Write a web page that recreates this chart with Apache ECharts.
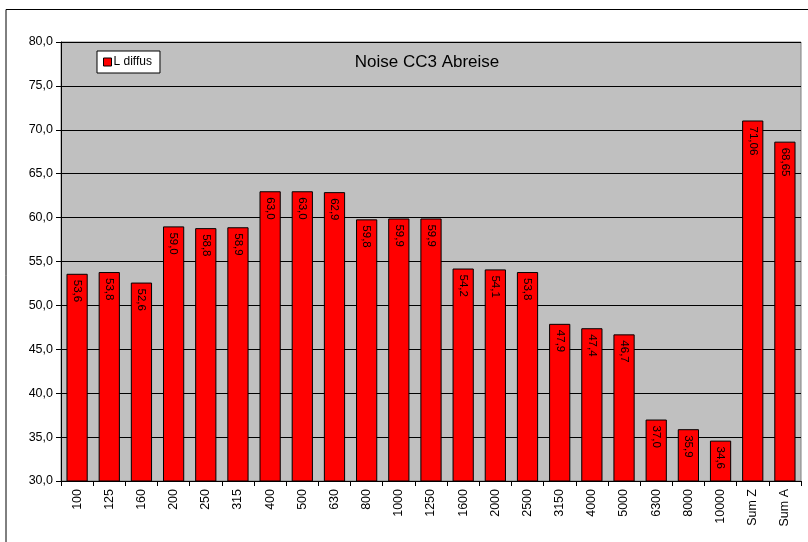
<!DOCTYPE html>
<html>
<head>
<meta charset="utf-8">
<script src="https://cdn.jsdelivr.net/npm/echarts@6/dist/echarts.min.js"></script>
<style>
  html, body { margin: 0; padding: 0; background: #fff; }
  #chart { width: 808px; height: 542px; }
</style>
</head>
<body>
<div id="chart"></div>
<script>
const categories = ['100', '125', '160', '200', '250', '315', '400', '500', '630', '800', '1000', '1250',
  '1600', '2000', '2500', '3150', '4000', '5000', '6300', '8000', '10000', 'Sum Z', 'Sum A']
const lDiffus = [53.6, 53.8, 52.6, 59.0, 58.8, 58.9, 63.0, 63.0, 62.9, 59.8, 59.9, 59.9,
  54.2, 54.1, 53.8, 47.9, 47.4, 46.7, 37.0, 35.9, 34.6, 71.06, 68.65]
const labelDecimals = [1, 1, 1, 1, 1, 1, 1, 1, 1, 1, 1, 1, 1, 1, 1, 1, 1, 1, 1, 1, 1, 2, 2]

const chart = echarts.init(document.getElementById('chart'))

chart.setOption({
  animation: false,
  textStyle: { fontFamily: 'Liberation Sans, Arial, sans-serif' },
  title: {
    text: 'Noise CC3 Abreise',
    left: 422,
    top: 49,
    textAlign: 'center',
    textStyle: { fontSize: 17, fontWeight: 'normal', color: '#000' },
  },
  legend: {
    left: 97,
    top: 51,
    padding: [5, 8, 5, 6],
    backgroundColor: '#fff',
    borderColor: '#000',
    borderWidth: 1,
    itemWidth: 8,
    itemHeight: 8,
    itemGap: 2,
    textStyle: { fontSize: 12, color: '#000', padding: [0, 0, 0, -3] },
    data: [{ name: 'L diffus', icon: 'rect', itemStyle: { borderColor: '#000', borderWidth: 1 } }],
  },
  graphic: [{
    type: 'polyline',
    shape: { points: [[6, 542], [6, 9.5], [808, 9.5]] },
    style: { stroke: '#000', lineWidth: 1, fill: null },
    silent: true,
  }],
  grid: {
    left: 61,
    top: 42,
    right: 7,
    bottom: 61,
    show: true,
    backgroundColor: '#c0c0c0',
    borderColor: '#808080',
    borderWidth: 1,
  },
  xAxis: {
    type: 'category',
    data: categories,
    axisLine: { lineStyle: { color: '#000' } },
    axisTick: { show: true, length: 5, lineStyle: { color: '#000' } },
    axisLabel: { rotate: 90, fontSize: 12.5, color: '#000', margin: 8 },
  },
  yAxis: {
    type: 'value',
    min: 30,
    max: 80,
    interval: 5,
    axisLine: { show: true, lineStyle: { color: '#000' } },
    axisTick: { show: true, length: 5, lineStyle: { color: '#000' } },
    axisLabel: {
      fontSize: 12.5,
      color: '#000',
      margin: 8,
      formatter: (v) => v.toFixed(1).replace('.', ','),
    },
    splitLine: { lineStyle: { color: '#000', width: 1 } },
  },
  series: [{
    name: 'L diffus',
    type: 'bar',
    data: lDiffus,
    barWidth: '66%',
    itemStyle: { color: '#ff0000', borderColor: '#000', borderWidth: 1 },
    label: {
      show: true,
      position: 'insideTop',
      rotate: -90,
      align: 'left',
      verticalAlign: 'middle',
      distance: 6,
      fontSize: 11.5,
      color: '#000',
      formatter: (p) => p.value.toFixed(labelDecimals[p.dataIndex]).replace('.', ','),
    },
  }],
})
</script>
</body>
</html>
